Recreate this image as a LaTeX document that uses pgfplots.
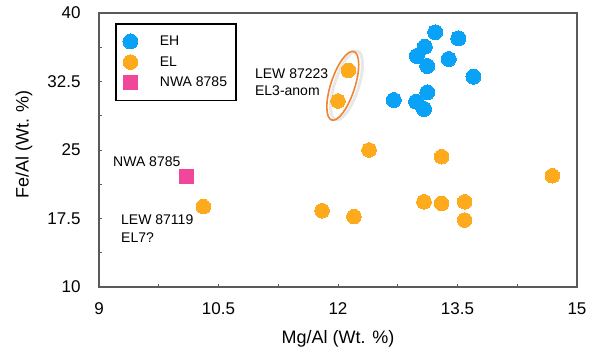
\documentclass[border=0pt]{standalone}
\usepackage{fontspec}
\setmainfont{Liberation Sans}
\usepackage{pgfplots}
\pgfplotsset{compat=1.18}
\definecolor{ehblue}{HTML}{0AA2F7}
\definecolor{elorange}{HTML}{FDAA1C}
\definecolor{nwapink}{HTML}{F0479B}
\definecolor{ellor}{HTML}{EE8434}
\definecolor{axgray}{HTML}{5A5A5A}
\begin{document}
\begin{tikzpicture}[x=1pt,y=1pt]
\useasboundingbox (-99,-63) rectangle (490,287);
\begin{axis}[
 at={(0,0)}, anchor=south west,
 scale only axis, width=478pt, height=274pt,
 xmin=9, xmax=15, ymin=10, ymax=40,
 xtick={9,10.5,12,13.5,15}, ytick={10,17.5,25,32.5,40},
 minor xtick={9.75,11.25,12.75,14.25}, minor ytick={13.75,21.25,28.75,36.25},
 tick pos=left, tick align=inside,
 major tick length=3pt, minor tick length=3pt,
 axis line style={axgray, line width=1.2pt},
 tick style={axgray, line width=0.8pt},
 ticklabel style={font=\fontsize{17}{20}\selectfont},
 /pgf/number format/assume math mode=true,
 xticklabel style={yshift=-12pt},
 yticklabel style={xshift=-15pt},
 xlabel={Mg/Al (Wt. \%)}, ylabel={Fe/Al (Wt. \%)},
 label style={font=\fontsize{18}{21}\selectfont},
 xlabel style={at={(axis description cs:0.5,-0.188)}, anchor=center},
 ylabel style={at={(axis description cs:-0.157,0.52)}, anchor=center},
 legend style={at={(axis description cs:0.0335,0.9635)}, anchor=north west,
   draw=black, line width=1.8pt, font=\fontsize{14}{16}\selectfont,
   inner xsep=7pt, inner ysep=10pt, row sep=5.5pt},
 legend cell align=left,
 legend image code/.code={\draw[mark repeat=2,mark phase=2,#1] plot coordinates {(0pt,0pt) (8pt,0pt) (16pt,0pt)};},
]
\addplot[only marks, mark=*, mark size=7.5pt, mark options={draw=ehblue, fill=ehblue, line width=0pt}] coordinates {
(13.22,37.89) (13.51,37.23) (13.09,36.31) (12.99,35.29) (13.39,34.96) (13.12,34.20)
(13.70,33.03) (13.12,31.31) (12.70,30.47) (12.98,30.29) (13.08,29.49)
};
\addlegendentry{\hspace*{20pt}EH}
\addplot[only marks, mark=*, mark size=7.3pt, mark options={draw=elorange, fill=elorange, line width=0pt}] coordinates {
(12.13,33.72) (12.00,30.36) (12.39,25.00) (13.30,24.26) (14.69,22.18) (13.08,19.33)
(13.30,19.15) (13.59,19.33) (13.59,17.33) (12.20,17.70) (10.31,18.80) (11.80,18.35)
};
\addlegendentry{\hspace*{20pt}EL}
\addplot[only marks, mark=square*, mark size=7pt, mark options={draw=nwapink, fill=nwapink, line width=0pt}] coordinates {
(10.10,22.15)
};
\addlegendentry{\hspace*{20pt}NWA 8785}
\draw[black!30, opacity=0.3, line width=3pt, rotate around={72:(axis cs:12.06,32.03)}] ([xshift=1.5pt,yshift=-3.5pt]axis cs:12.06,32.03) ellipse [x radius=36pt, y radius=12pt];
\draw[ellor, line width=1.6pt, rotate around={72:(axis cs:12.06,32.03)}] (axis cs:12.06,32.03) ellipse [x radius=36pt, y radius=12pt];
\node[anchor=west, align=left, inner sep=0pt, font=\fontsize{14}{17}\selectfont] at (axis cs:10.957,32.44) {LEW 87223\\EL3-anom};
\node[anchor=west, align=left, inner sep=0pt, font=\fontsize{14}{17}\selectfont] at (axis cs:9.176,23.68) {NWA 8785};
\node[anchor=west, align=left, inner sep=0pt, font=\fontsize{14}{18}\selectfont] at (axis cs:9.276,16.40) {LEW 87119\\EL7?};
\end{axis}
\end{tikzpicture}
\end{document}
